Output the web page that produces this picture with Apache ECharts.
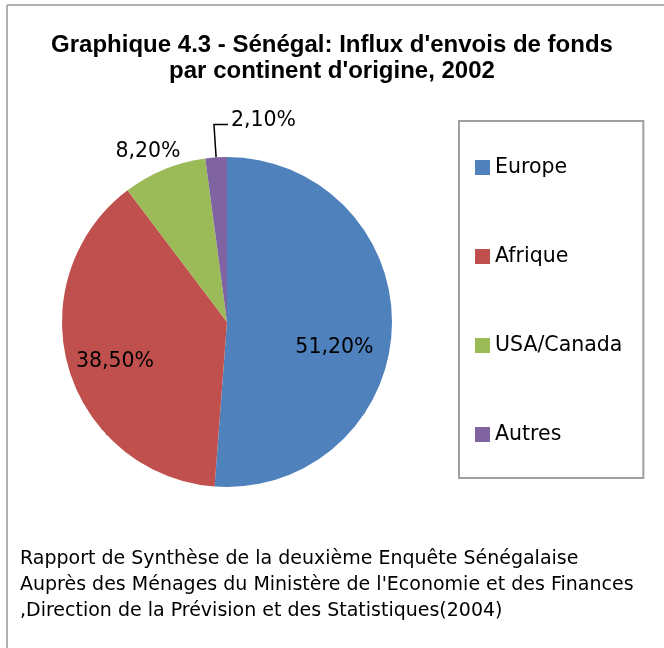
<!DOCTYPE html>
<html>
<head>
<meta charset="utf-8">
<title>Sénégal: Influx d'envois de fonds 2002</title>
<script src="https://cdn.jsdelivr.net/npm/echarts@6/dist/echarts.min.js"></script>
<style>
  html, body { margin: 0; padding: 0; background: #fff; }
  #chart { width: 664px; height: 648px; }
</style>
</head>
<body>
<div id="chart"></div>
<script>
// continents d'origine et parts (%)
var categories = ["Europe", "Afrique", "USA/Canada", "Autres"];
var shares = [51.2, 38.5, 8.2, 2.1];
var colors = ["#4F81BD", "#C0504D", "#9BBB59", "#8064A2"];

var titleText = "Graphique 4.3 - Sénégal: Influx d'envois de fonds\npar continent d'origine, 2002";
var sourceText = "Rapport de Synthèse de la deuxième Enquête Sénégalaise\n" +
  "Auprès des Ménages du Ministère de l'Economie et des Finances\n" +
  ",Direction de la Prévision et des Statistiques(2004)";

var myChart = echarts.init(document.getElementById("chart"));

var labelFont = { fontFamily: "DejaVu Sans", fontSize: 20.5, color: "#000" };

var opt = {
  animation: false,
  color: colors,
  title: [
    {
      text: titleText,
      left: "center",
      top: 32,
      padding: 0,
      textStyle: {
        fontFamily: "Liberation Sans",
        fontWeight: "bold",
        fontSize: 24,
        lineHeight: 26,
        color: "#000"
      }
    },
    {
      text: sourceText,
      left: 20,
      top: 546,
      padding: 0,
      textStyle: {
        fontFamily: "DejaVu Sans",
        fontWeight: "normal",
        fontSize: 19,
        lineHeight: 26,
        color: "#000"
      }
    }
  ],
  legend: {
    orient: "vertical",
    left: 459,
    top: 121,
    padding: [36, 21, 33, 16],
    itemWidth: 15,
    itemHeight: 15,
    itemGap: 68,
    itemTextGap: 4,
    icon: "rect",
    borderColor: "#a0a0a0",
    borderWidth: 2,
    selectedMode: false,
    textStyle: {
      fontFamily: "DejaVu Sans",
      fontSize: 20.5,
      lineHeight: 20,
      color: "#000"
    },
    data: categories
  },
  graphic: [
    // cadre gris (haut et gauche)
    { type: "line", shape: { x1: 7, y1: 5, x2: 664, y2: 5 }, style: { stroke: "#b0b0b0", lineWidth: 2 } },
    { type: "line", shape: { x1: 7, y1: 5, x2: 7, y2: 648 }, style: { stroke: "#b0b0b0", lineWidth: 2 } }
  ],
  series: [
    {
      type: "pie",
      center: [227, 322],
      radius: [0, 165],
      startAngle: 90,
      clockwise: true,
      avoidLabelOverlap: false,
      emphasis: { disabled: true },
      label: Object.assign({
        formatter: function (p) {
          return p.value.toFixed(2).replace(".", ",") + "%";
        }
      }, labelFont),
      labelLine: { lineStyle: { color: "#000", width: 1.5 } },
      labelLayout: function (p) {
        var r = p.labelRect;
        var cx = r.x + r.width / 2, cy = r.y + r.height / 2;
        if (p.dataIndex === 0) {
          return { x: cx + 22, y: cy + 22, align: "center", verticalAlign: "middle" };
        }
        if (p.dataIndex === 1) {
          return { x: cx - 30, y: cy + 16, align: "center", verticalAlign: "middle" };
        }
        if (p.dataIndex === 2) {
          return { x: cx + 25, y: cy - 8, align: "center", verticalAlign: "middle" };
        }
        var pts = p.labelLinePoints;
        if (!pts) return {};
        var a = pts[0], b = pts[1];
        var c = [b[0] + 14, b[1]];
        return {
          x: c[0] + 3, y: c[1] - 4, align: "left", verticalAlign: "middle",
          labelLinePoints: [a, b, c]
        };
      },
      data: categories.map(function (name, i) {
        var item = { name: name, value: shares[i] };
        if (i < 2) {
          item.label = { position: "inside" };
        } else if (i === 2) {
          item.label = { position: "outside" };
          item.labelLine = { show: false, length: 10, length2: 0 };
        } else {
          item.label = { position: "outside" };
          item.labelLine = { show: true, length: 33, length2: 14 };
        }
        return item;
      })
    }
  ]
};

myChart.setOption(opt);
</script>
</body>
</html>
